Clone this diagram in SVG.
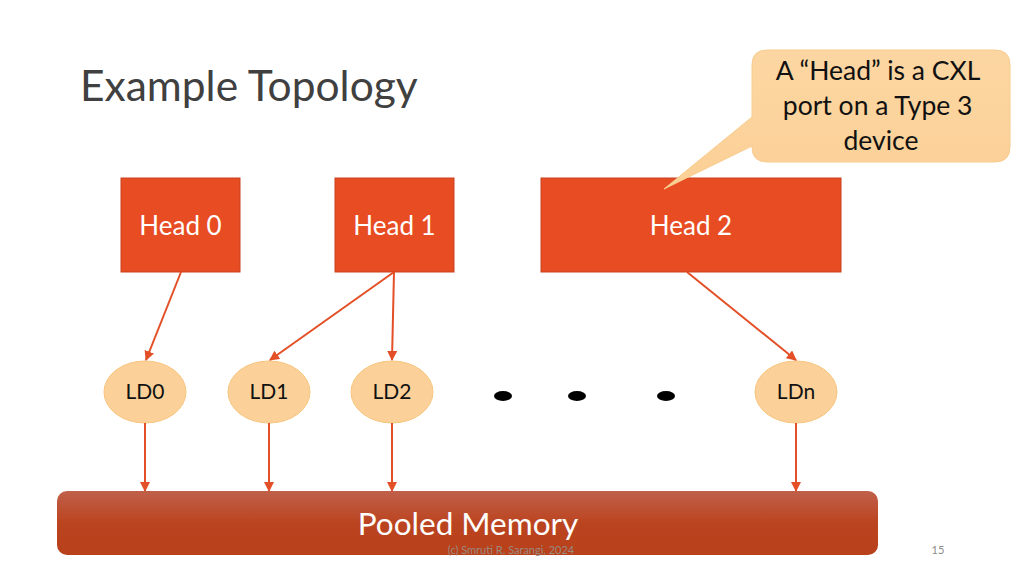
<svg xmlns="http://www.w3.org/2000/svg" width="1024" height="576" viewBox="0 0 1024 576">
<defs>
<style>
.head rect{fill:#e84c22;stroke:#c8421e;stroke-width:1}
.head text{fill:#ffffff;font-family:Lato,"Open Sans",sans-serif;font-size:26px;text-anchor:middle}
.ld ellipse{fill:#fcd199;stroke:#f8c57e;stroke-width:1}
.ld text{fill:#111;font-family:Lato,"Open Sans",sans-serif;font-size:21px;text-anchor:middle}
.conn line{stroke:#e34f26;stroke-width:2;marker-end:url(#ah)}
.dot{fill:#000}
</style>
<marker id="ah" viewBox="0 0 10 10" refX="9" refY="5" markerWidth="5" markerHeight="5" orient="auto" markerUnits="strokeWidth">
<path d="M0,0 L10,5 L0,10 z" fill="#e34f26"/>
</marker>
<linearGradient id="mem" x1="0" y1="0" x2="0" y2="1">
<stop offset="0" stop-color="#c0604a"/>
<stop offset="0.5" stop-color="#bb4420"/>
<stop offset="1" stop-color="#b8401a"/>
</linearGradient>
<linearGradient id="call" x1="0" y1="0" x2="0" y2="1">
<stop offset="0" stop-color="#fcd6a2"/>
<stop offset="1" stop-color="#fbd096"/>
</linearGradient>
</defs>
<rect width="1024" height="576" fill="#ffffff"/>
<text x="80" y="101" font-family="Lato,'Open Sans',sans-serif" font-size="42.5" fill="#404040">Example Topology</text>

<g id="head0" class="head"><rect x="121" y="178" width="119" height="94"/><text x="180.5" y="235">Head 0</text></g>
<g id="head1" class="head"><rect x="335" y="178" width="119" height="94"/><text x="394.5" y="235">Head 1</text></g>
<g id="head2" class="head"><rect x="541" y="178" width="300" height="94"/><text x="691" y="235">Head 2</text></g>

<g id="callout">
<path d="M767,50 H995 Q1010,50 1010,65 V147 Q1010,162 995,162 H767 Q752,162 752,147 V146 L664,189 L752,117 V65 Q752,50 767,50 Z" fill="url(#call)" stroke="#f9cc8e" stroke-width="1"/>
<text font-family="Lato,'Open Sans',sans-serif" font-size="26.5" fill="#111" text-anchor="middle">
<tspan x="881" y="80">A “Head” is a CXL</tspan>
<tspan x="881" y="115">port on a Type 3</tspan>
<tspan x="881" y="150">device</tspan>
</text>
</g>

<g id="ld0" class="ld"><ellipse cx="145" cy="392" rx="41" ry="31"/><text x="145" y="399">LD0</text></g>
<g id="ld1" class="ld"><ellipse cx="269" cy="392" rx="41" ry="31"/><text x="269" y="399">LD1</text></g>
<g id="ld2" class="ld"><ellipse cx="392" cy="392" rx="41" ry="31"/><text x="392" y="399">LD2</text></g>
<g id="ldn" class="ld"><ellipse cx="796" cy="392" rx="41" ry="31"/><text x="796" y="399">LDn</text></g>

<g id="dots">
<ellipse class="dot" cx="503" cy="396" rx="9" ry="5"/>
<ellipse class="dot" cx="577" cy="396" rx="9" ry="5"/>
<ellipse class="dot" cx="666" cy="396" rx="9" ry="5"/>
</g>

<g id="memory">
<rect x="57" y="491" width="821" height="64" rx="10" fill="url(#mem)"/>
<text x="468" y="535" font-family="Lato,'Open Sans',sans-serif" font-size="31.5" fill="#ffffff" text-anchor="middle">Pooled Memory</text>
</g>

<g id="connectors" class="conn">
<line x1="181" y1="272" x2="146" y2="360"/>
<line x1="394" y1="272" x2="270" y2="360"/>
<line x1="394" y1="272" x2="392" y2="360"/>
<line x1="687" y1="272" x2="796" y2="360"/>
<line x1="145" y1="423" x2="145" y2="491"/>
<line x1="269" y1="423" x2="269" y2="491"/>
<line x1="392" y1="423" x2="392" y2="491"/>
<line x1="796" y1="423" x2="796" y2="491"/>
</g>

<text x="511" y="554" font-family="Lato,'Open Sans',sans-serif" font-size="11" fill="#9a8a80" text-anchor="middle">(c) Smruti R. Sarangi, 2024</text>
<text x="938" y="554" font-family="Lato,'Open Sans',sans-serif" font-size="11" fill="#8a8a8a" text-anchor="middle">15</text>
</svg>
